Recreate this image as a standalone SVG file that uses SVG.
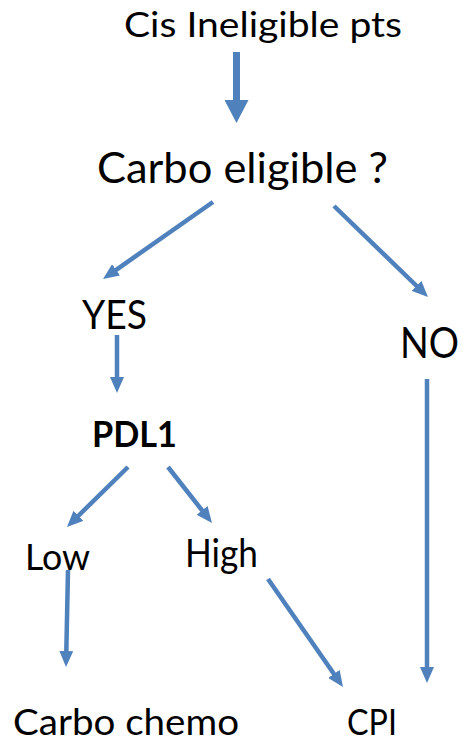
<svg xmlns="http://www.w3.org/2000/svg" width="467" height="744" viewBox="0 0 467 744">
<style>
  text { font-family: Lato, "Open Sans", "Liberation Sans", sans-serif; fill: #000; }
  .b { font-weight: bold; }
  .c { stroke: #4F81BD; stroke-width: 4.5; fill: none; marker-end: url(#ah); }
  .big { stroke: #4F81BD; stroke-width: 7; fill: none; marker-end: url(#bh); }
</style>
<defs>
  <marker id="ah" markerUnits="userSpaceOnUse" viewBox="0 0 16 14" markerWidth="16" markerHeight="14" refX="6" refY="7" orient="auto">
    <path d="M0,0 L16,7 L0,14 z" fill="#4F81BD"/>
  </marker>
  <marker id="bh" markerUnits="userSpaceOnUse" viewBox="0 0 23 24" markerWidth="23" markerHeight="24" refX="2" refY="12" orient="auto">
    <path d="M0,0 L23,12 L0,24 z" fill="#4F81BD"/>
  </marker>
</defs>
<rect width="467" height="744" fill="#fff"/>
<g id="connectors">
  <line class="big" x1="236.5" y1="52" x2="236.5" y2="102"/>
  <line class="c" x1="213" y1="202" x2="111.2" y2="273.3"/>
  <line class="c" x1="334" y1="206" x2="420.8" y2="290"/>
  <line class="c" x1="117" y1="335" x2="117" y2="383"/>
  <line class="c" x1="128" y1="467" x2="74.1" y2="520"/>
  <line class="c" x1="168" y1="467" x2="205.8" y2="515.1"/>
  <line class="c" x1="68" y1="570" x2="66.2" y2="657"/>
  <line class="c" x1="268" y1="579" x2="337.3" y2="678.8"/>
  <line class="c" x1="427" y1="379" x2="427" y2="673"/>
</g>
<g id="n-cis"><text x="124" y="37" font-size="35" textLength="278" lengthAdjust="spacingAndGlyphs">Cis Ineligible pts</text></g>
<g id="n-carbo"><text x="97" y="183" font-size="43" textLength="291" lengthAdjust="spacingAndGlyphs">Carbo eligible ?</text></g>
<g id="n-yes"><text x="82" y="329" font-size="41" textLength="65" lengthAdjust="spacingAndGlyphs">YES</text></g>
<g id="n-no"><text x="400" y="358" font-size="43" textLength="59" lengthAdjust="spacingAndGlyphs">NO</text></g>
<g id="n-pdl1"><text class="b" x="92" y="447" font-size="37" textLength="85" lengthAdjust="spacingAndGlyphs">PDL1</text></g>
<g id="n-low"><text x="25" y="570" font-size="36" textLength="65" lengthAdjust="spacingAndGlyphs">Low</text></g>
<g id="n-high"><text x="185" y="567" font-size="38" textLength="73" lengthAdjust="spacingAndGlyphs">High</text></g>
<g id="n-chemo"><text x="13" y="735" font-size="36" textLength="226" lengthAdjust="spacingAndGlyphs">Carbo chemo</text></g>
<g id="n-cpi"><text x="347" y="735" font-size="36" textLength="50" lengthAdjust="spacingAndGlyphs">CPI</text></g>
</svg>
